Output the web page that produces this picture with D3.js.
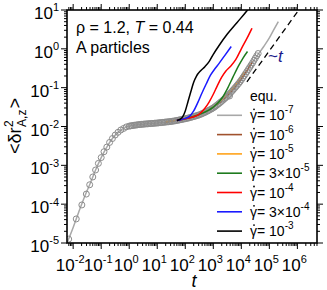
<!DOCTYPE html>
<html><head><meta charset="utf-8">
<script src="https://cdn.jsdelivr.net/npm/d3@7"></script>
<style>body{margin:0;background:#fff}svg{display:block}text{font-family:"Liberation Sans",Arial,Helvetica,sans-serif}</style>
</head><body><svg id="c" width="327" height="290"></svg>
<script>
// ---- data (log10 t, log10 <dr^2>) ----
const equ = [[-2.16,-4.9],[-1.89,-4.38],[-1.69,-4.02],[-1.53,-3.74],[-1.41,-3.5],[-1.3,-3.3],[-1.2,-3.12],[-1.1,-2.95],[-1.0,-2.8],[-0.9,-2.65],[-0.8,-2.53],[-0.7,-2.41],[-0.6,-2.31],[-0.5,-2.22],[-0.4,-2.15],[-0.3,-2.09],[-0.2,-2.05],[-0.1,-2.01],
[0.00,-1.99],[0.05,-1.984],[0.10,-1.978],[0.15,-1.972],[0.20,-1.966],[0.25,-1.961],[0.30,-1.956],[0.35,-1.952],[0.40,-1.948],[0.45,-1.944],[0.50,-1.94],[0.55,-1.937],[0.60,-1.934],[0.65,-1.931],[0.70,-1.928],[0.75,-1.925],[0.80,-1.922],[0.85,-1.919],[0.90,-1.916],[0.95,-1.913],
[1.00,-1.91],[1.05,-1.906],[1.10,-1.902],[1.15,-1.898],[1.20,-1.894],[1.25,-1.89],[1.30,-1.886],[1.35,-1.882],[1.40,-1.878],[1.45,-1.874],[1.50,-1.87],[1.55,-1.864],[1.60,-1.858],[1.65,-1.851],[1.70,-1.844],[1.75,-1.837],[1.80,-1.83],[1.85,-1.822],[1.90,-1.815],[1.95,-1.808],
[2.00,-1.80],[2.05,-1.792],[2.10,-1.783],[2.15,-1.774],[2.20,-1.764],[2.25,-1.754],[2.30,-1.744],[2.35,-1.733],[2.40,-1.722],[2.45,-1.711],[2.50,-1.70],[2.55,-1.685],[2.60,-1.67],[2.65,-1.653],[2.70,-1.636],[2.75,-1.618],[2.80,-1.60],[2.85,-1.581],[2.90,-1.561],[2.95,-1.541],
[3.00,-1.52],[3.05,-1.494],[3.10,-1.467],[3.15,-1.439],[3.20,-1.41],[3.25,-1.38],[3.30,-1.35],[3.35,-1.318],[3.40,-1.286],[3.45,-1.253],[3.50,-1.22],[3.55,-1.182],[3.60,-1.143],[3.65,-1.103],[3.70,-1.063],[3.75,-1.022],[3.80,-0.981],[3.85,-0.939],[3.90,-0.896],[3.95,-0.849],
[4.00,-0.80],[4.05,-0.748],[4.10,-0.695],[4.15,-0.64],[4.20,-0.585],[4.25,-0.53],[4.30,-0.474],[4.35,-0.418],[4.40,-0.362],[4.45,-0.30],[4.50,-0.24],[4.55,-0.18],[4.60,-0.12]];
const gamma1e7 = [[-2.22,-5.0],[-2.0,-4.6],[-1.8,-4.2],[-1.6,-3.82],[-1.4,-3.48],[-1.2,-3.12],[-1.0,-2.8],[-0.8,-2.53],[-0.6,-2.31],[-0.4,-2.15],[-0.2,-2.05],[0,-1.99],[0.5,-1.94],[1,-1.91],[1.5,-1.87],[2,-1.8],[2.5,-1.7],[3,-1.52],[3.5,-1.22],[4,-0.8],[4.5,-0.24],[4.8,0.06],[5.0,0.28],[5.15,0.48],[5.32,0.70]];
const gamma1e6 = [[1.3,-1.886],[2,-1.8],[2.5,-1.7],[3,-1.51],[3.5,-1.2],[4,-0.77],[4.4,-0.33]];
const gamma1e5 = [[1.3,-1.88],[2,-1.79],[2.5,-1.685],[3,-1.49],[3.5,-1.17],[3.85,-0.86],[4.1,-0.6]];
const gamma3e5 = [[1.7,-1.844],[2,-1.8],[2.5,-1.69],[3,-1.5],[3.3,-1.28],[3.5,-1.03],[3.7,-0.73],[3.9,-0.44],[4.05,-0.25],[4.22,-0.07]];
const gamma1e4 = [[1.7,-1.844],[2.0,-1.8],[2.3,-1.75],[2.5,-1.68],[2.7,-1.53],[2.85,-1.37],[3.0,-1.17],[3.15,-0.94],[3.3,-0.73],[3.45,-0.57],[3.6,-0.46],[3.8,-0.28],[4.0,0.0],[4.2,0.27],[4.38,0.53]];
const gamma3e4 = [[1.7,-1.844],[1.8,-1.83],[2.0,-1.79],[2.15,-1.74],[2.3,-1.6],[2.45,-1.38],[2.6,-1.13],[2.75,-0.9],[2.9,-0.68],[3.05,-0.52],[3.2,-0.38],[3.4,-0.18],[3.64,0.06]];
const gamma1e3 = [[1.7,-1.844],[1.8,-1.82],[1.9,-1.76],[2.0,-1.6],[2.1,-1.35],[2.2,-1.1],[2.3,-0.86],[2.4,-0.7],[2.54,-0.57],[2.7,-0.46],[2.85,-0.33],[3.0,-0.14],[3.2,0.08],[3.5,0.38],[3.85,0.68],[4.2,0.98],[4.4,1.18]];
const guideT = [[4.2,-0.85],[6.1,1.05]];
const xTickExps = [-2,-1,0,1,2,3,4,5,6];
const yTickExps = [-5,-4,-3,-2,-1,0,1];
const seriesNames = ["10","10","10","3\u00d710","10","3\u00d710","10"];
const seriesSups = ["-7","-6","-5","-5","-4","-4","-3"];
const seriesColors = ["#a8a8a8","#a0522d","#ffa31a","#1e7b1e","#ff0000","#1a1aff","#000000"];

// ---- layout ----
const svg = d3.select("#c");
const L=67,R=317,T=10,B=243;
const x = d3.scaleLog().domain([Math.pow(10,-2.22),Math.pow(10,6.70)]).range([L,R]);
const y = d3.scaleLog().domain([1e-5,1e1]).range([B,T]);
const P = d=>[x(Math.pow(10,d[0])),y(Math.pow(10,d[1]))];
const line = d3.line().x(d=>P(d)[0]).y(d=>P(d)[1]).curve(d3.curveMonotoneX);

svg.append("defs").append("clipPath").attr("id","clip").append("rect").attr("x",L).attr("y",T).attr("width",R-L).attr("height",B-T);
const plot = svg.append("g").attr("clip-path","url(#clip)");

const lines = [gamma1e7,gamma1e6,gamma1e5,gamma3e5,gamma1e4,gamma3e4,gamma1e3];
plot.append("path").attr("d",d3.line().x(d=>P(d)[0]).y(d=>P(d)[1])(guideT)).attr("fill","none").attr("stroke","#000").attr("stroke-width",1.3).attr("stroke-dasharray","6,4");
[0,1,2].forEach(i=>plot.append("path").attr("d",line(lines[i])).attr("fill","none").attr("stroke",seriesColors[i]).attr("stroke-width",1.5));
plot.append("g").selectAll("circle").data(equ).join("circle")
  .attr("cx",d=>P(d)[0]).attr("cy",d=>P(d)[1]).attr("r",3)
  .attr("fill","none").attr("stroke","#8c8c8c").attr("stroke-width",1);
[3,4,5,6].forEach(i=>plot.append("path").attr("d",line(lines[i])).attr("fill","none").attr("stroke",seriesColors[i]).attr("stroke-width",1.5));

// ---- axes (ticks outward on all four sides) ----
const ax = svg.append("g").attr("stroke","#000");
const xMajor = xTickExps.map(e=>Math.pow(10,e));
const xMinor = [];
for(let e=-3;e<=6;e++) for(let k=2;k<=9;k++){const v=k*Math.pow(10,e); if(v>=x.domain()[0]&&v<=x.domain()[1]) xMinor.push(v);}
const yMajor = yTickExps.map(e=>Math.pow(10,e));
const yMinor = [];
for(let e=-5;e<=0;e++) for(let k=2;k<=9;k++) yMinor.push(k*Math.pow(10,e));
function tk(x1,y1,x2,y2){ax.append("line").attr("x1",x1).attr("y1",y1).attr("x2",x2).attr("y2",y2).attr("stroke-width",1);}
xMajor.forEach(v=>{tk(x(v),B,x(v),B+6);tk(x(v),T,x(v),T-6);});
xMinor.forEach(v=>{tk(x(v),B,x(v),B+3);tk(x(v),T,x(v),T-3);});
yMajor.forEach(v=>{tk(L,y(v),L-6,y(v));tk(R,y(v),R+6,y(v));});
yMinor.forEach(v=>{tk(L,y(v),L-3,y(v));tk(R,y(v),R+3,y(v));});
svg.append("rect").attr("x",L).attr("y",T).attr("width",R-L).attr("height",B-T).attr("fill","none").attr("stroke","#000").attr("stroke-width",1.6);

function supLabel(parent,px,py,base,sup,size,supSize,anchor,fill){
  const t = parent.append("text").attr("x",px).attr("y",py).attr("text-anchor",anchor).attr("font-size",size).attr("fill",fill||"#000");
  t.append("tspan").text(base);
  t.append("tspan").attr("font-size",supSize).attr("dy",-size*0.45).text(sup);
  return t;
}
xTickExps.forEach(e=>supLabel(svg,x(Math.pow(10,e))-3,271,"10",String(e),17,11,"middle"));
yTickExps.forEach(e=>supLabel(svg,59,y(Math.pow(10,e))+9,"10",String(e),17,11,"end"));

// axis titles
svg.append("text").attr("x",194).attr("y",287).attr("text-anchor","middle").attr("font-size",18).attr("font-style","italic").text("t");
const yt = svg.append("g").attr("transform","translate(21,126) rotate(-90)");
const yg = yt.append("g");
const t1 = yg.append("text").attr("x",0).attr("y",0).attr("font-size",18).text("<\u03b4r");
const w1 = t1.node().getComputedTextLength();
yg.append("text").attr("x",w1+0.5).attr("y",-8).attr("font-size",12).text("2");
const t3 = yg.append("text").attr("x",w1+0.5).attr("y",5).attr("font-size",12).text("A,z");
const w3 = t3.node().getComputedTextLength();
const t4 = yg.append("text").attr("x",w1+w3+1.5).attr("y",0).attr("font-size",18).text(">");
const wt = w1+w3+1.5+t4.node().getComputedTextLength();
yg.attr("transform",`translate(${-wt/2},0)`);

// annotations
const ann = svg.append("text").attr("x",76).attr("y",33).attr("font-size",16);
ann.append("tspan").text("\u03c1 = 1.2, ");
ann.append("tspan").attr("font-style","italic").text("T");
ann.append("tspan").text(" = 0.44");
svg.append("text").attr("x",76).attr("y",53).attr("font-size",16).text("A particles");
const tl = svg.append("text").attr("x",268).attr("y",62).attr("font-size",17).attr("fill","#1a1a8c");
tl.append("tspan").text("~");
tl.append("tspan").attr("font-style","italic").text("t");

// legend
const lg = svg.append("g");
const lx0=217, lx1=242, ltx=250, ly0=96, ldy=19.3;
lg.append("circle").attr("cx",(lx0+lx1)/2).attr("cy",ly0).attr("r",3).attr("fill","none").attr("stroke","#8c8c8c").attr("stroke-width",1);
lg.append("text").attr("x",ltx).attr("y",ly0+5).attr("font-size",14).text("equ.");
seriesNames.forEach((nm,i)=>{
  const yy = ly0+(i+1)*ldy;
  lg.append("line").attr("x1",lx0).attr("x2",lx1).attr("y1",yy).attr("y2",yy).attr("stroke",seriesColors[i]).attr("stroke-width",1.6);
  const g = lg.append("text").attr("x",ltx).attr("y",yy+5).attr("font-size",14).text("\u03b3");
  const gw = g.node().getComputedTextLength();
  lg.append("circle").attr("cx",ltx+gw/2+0.5).attr("cy",yy-6).attr("r",0.9).attr("fill","#000");
  const t = lg.append("text").attr("x",ltx+gw).attr("y",yy+5).attr("font-size",14);
  t.append("tspan").text(" = "+nm);
  t.append("tspan").attr("font-size",10).attr("dy",-7).text(seriesSups[i]);
});
</script></body></html>
